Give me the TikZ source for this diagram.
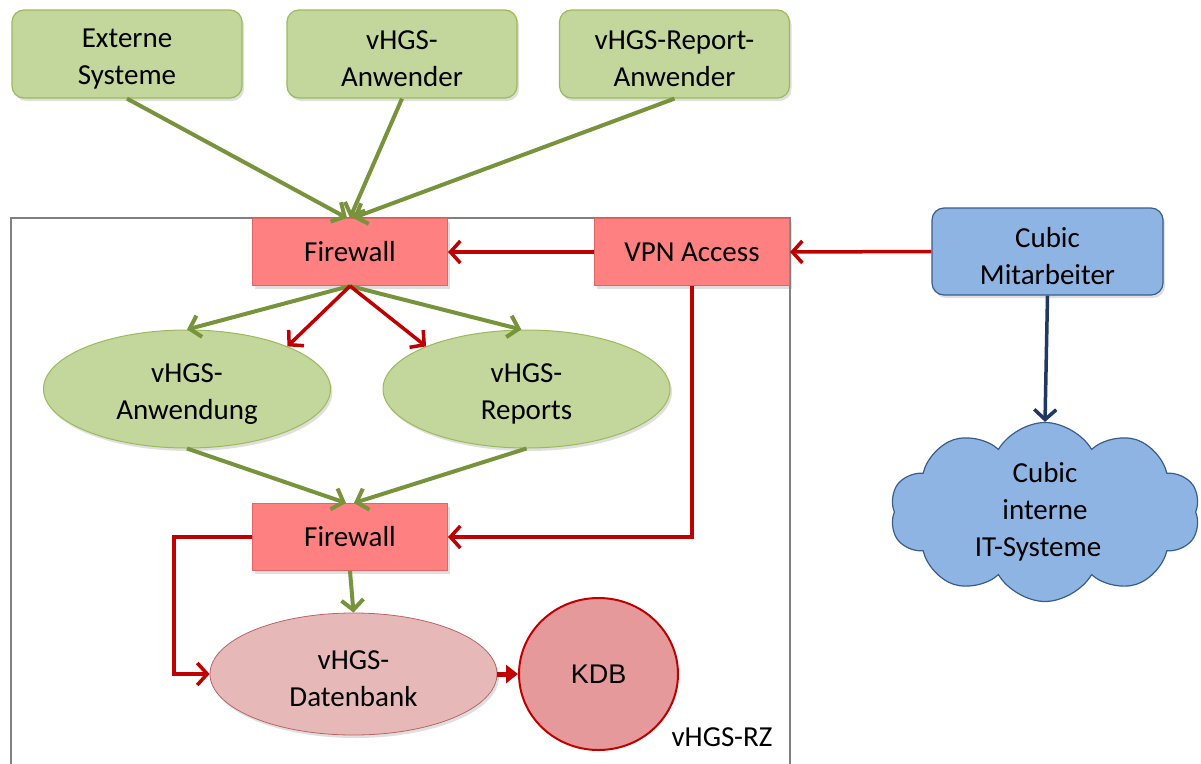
\documentclass[tikz,border=0pt]{standalone}
\usepackage{fontspec}
\setmainfont{Carlito}
\newfontfamily\arialfont{Liberation Sans}
\usetikzlibrary{arrows.meta,shapes.geometric,shapes.symbols,shadows}

\definecolor{grfill}{HTML}{C3D69B}
\definecolor{grdraw}{HTML}{9BBB59}
\definecolor{grline}{HTML}{77933C}
\definecolor{rdfill}{HTML}{FF8080}
\definecolor{rddraw}{HTML}{E06666}
\definecolor{rdline}{HTML}{C00000}
\definecolor{dbfill}{HTML}{E6B9B8}
\definecolor{dbdraw}{HTML}{B76563}
\definecolor{kdbfill}{HTML}{E5999A}
\definecolor{blfill}{HTML}{8EB4E3}
\definecolor{bldraw}{HTML}{385D8A}
\definecolor{blline}{HTML}{1F3864}
\definecolor{frame}{HTML}{808080}

\tikzset{
  txt/.style={font=\fontsize{29}{37}\selectfont, align=center, text=black},
  % a tall invisible rule beside the label lowers two-line labels a little
  lowtext/.style={execute at begin node={\rule{0pt}{66pt}}},
  shade/.style={drop shadow={opacity=0.25,shadow xshift=2pt,shadow yshift=-3pt}},
  userbox/.style={txt, lowtext, rectangle, rounded corners=12pt, fill=grfill, draw=grdraw, line width=1.2pt,
    minimum width=230pt, minimum height=88pt, inner sep=0pt, shade},
  fwbox/.style={txt, rectangle, fill=rdfill, draw=rddraw, line width=1pt,
    minimum width=195pt, minimum height=67pt, inner sep=0pt, shade},
  appell/.style={txt, lowtext, ellipse, fill=grfill, draw=grdraw, line width=1pt,
    minimum width=287pt, minimum height=118pt, inner sep=0pt, shade},
  dbell/.style={txt, lowtext, ellipse, fill=dbfill, draw=dbdraw, line width=0.8pt,
    minimum width=287pt, minimum height=122pt, inner sep=0pt, shade},
  kdbell/.style={ellipse, fill=kdbfill, draw=rdline, line width=2pt,
    minimum width=159pt, minimum height=152pt, inner sep=0pt,
    font=\arialfont\fontsize{27}{32}\selectfont},
  staffbox/.style={txt, lowtext, rectangle, rounded corners=12pt, fill=blfill, draw=bldraw, line width=1.2pt,
    minimum width=231pt, minimum height=87pt, inner sep=0pt, shade},
  itcloud/.style={txt, cloud, cloud puffs=10, cloud puff arc=120, aspect=1.85,
    fill=blfill, draw=bldraw, line width=1.2pt, minimum width=310pt, minimum height=170pt, inner sep=0pt},
  gflow/.style={draw=grline, line width=4pt, -{Straight Barb[length=10pt,width=22pt,line width=4pt]}},
  rflow/.style={draw=rdline, line width=3.5pt, -{Straight Barb[length=10pt,width=22pt,line width=3.5pt]}},
  rpath/.style={draw=rdline, line width=3.5pt, rounded corners=0pt,
    -{Straight Barb[length=10pt,width=22pt,line width=3.5pt]}},
  bflow/.style={draw=blline, line width=3.5pt, -{Straight Barb[length=10pt,width=22pt,line width=3.5pt]}},
  kflow/.style={draw=rdline, line width=5pt, -{Triangle[length=12pt,width=18pt]}},
}

\begin{document}
\begin{tikzpicture}[x=1pt,y=-1pt]
\useasboundingbox (0,0) rectangle (1201,763);

% data centre frame
\draw[frame, line width=2pt] (11,218) rectangle (790,780);
\node[txt, anchor=center] (rz) at (722,737) {vHGS-RZ};

% external user groups
\node[userbox] (ext) at (127,54) {Externe\\Systeme};
\node[userbox] (anw) at (402,54) {vHGS-\\Anwender};
\node[userbox] (rpt) at (674.5,54) {vHGS-Report-\\Anwender};

% firewalls and VPN
\node[fwbox] (fw1) at (350,252) {Firewall};
\node[fwbox] (vpn) at (692,252) {VPN Access};
\node[fwbox] (fw2) at (350,537) {Firewall};

% applications
\node[appell] (app) at (187,389) {vHGS-\\Anwendung};
\node[appell] (rep) at (526.5,389) {vHGS-\\Reports};

% databases
\node[dbell] (db) at (353.5,674) {vHGS-\\Datenbank};
\node[kdbell] (kdb) at (598.5,674) {KDB};

% Cubic side
\node[staffbox] (staff) at (1047.5,251.5) {Cubic\\Mitarbeiter};
\node[itcloud] (cloud) at (1045,512) {Cubic\\interne\\IT-Systeme\hspace*{14pt}};

% incoming traffic
\draw[gflow] (ext.south) -- ([xshift=-3pt]fw1.north);
\draw[gflow] (anw.south) -- (fw1.north);
\draw[gflow] (rpt.south) -- ([xshift=3pt]fw1.north);

% firewall to applications
\draw[gflow] (fw1.south) -- (app.north);
\draw[gflow] (fw1.south) -- (rep.95);
\draw[rflow] (fw1.south) -- (app.23);
\draw[rflow] (fw1.south) -- (rep.157);

% applications to inner firewall
\draw[gflow] (app.south) -- ([xshift=-4pt]fw2.north);
\draw[gflow] (rep.south) -- ([xshift=4pt]fw2.north);
\draw[gflow] (fw2.south) -- (db.north);

% admin access
\draw[rflow] (staff.west) -- (vpn.east);
\draw[rflow] (vpn.west) -- (fw1.east);
\draw[rpath] (vpn.south) |- (fw2.east);
\draw[rpath] (fw2.west) -- ++(-78,0) |- (db.west);
\draw[kflow] (db.east) -- (kdb.west);
\draw[bflow] (staff.south) -- (cloud.north);
\end{tikzpicture}
\end{document}
